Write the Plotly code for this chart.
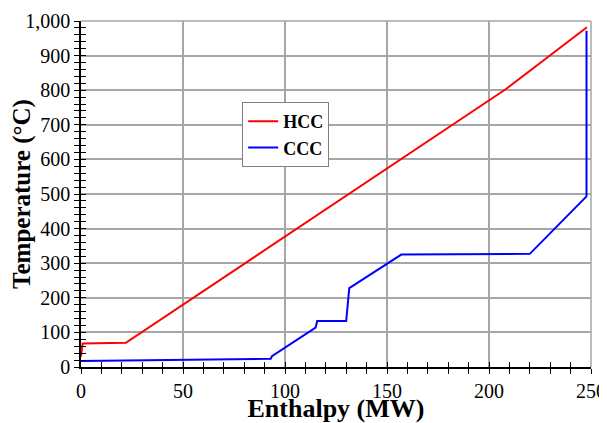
import plotly.graph_objects as go

hcc_h = [0, 0.8, 22, 208, 248]
hcc_t = [30, 68, 70, 802, 982]

ccc_h = [0, 93, 93.6, 115, 115.8, 130, 131.5, 157, 220, 247.8, 247.8]
ccc_t = [17, 24, 31, 114, 133, 133, 228, 325, 327, 493, 972]

x_ticks = [0, 50, 100, 150, 200, 250]
y_ticks = list(range(0, 1001, 100))

SERIF = "Liberation Serif"
GRID = "#a6a6a6"

fig = go.Figure()
fig.add_trace(go.Scatter(x=hcc_h, y=hcc_t, mode="lines", name="HCC",
                         line=dict(color="#ff0000", width=2)))
fig.add_trace(go.Scatter(x=ccc_h, y=ccc_t, mode="lines", name="CCC",
                         line=dict(color="#0000ff", width=2)))
fig.add_trace(go.Scatter(x=[None], y=[None], xaxis="x2", yaxis="y2",
                         showlegend=False, hoverinfo="skip"))

common_tick = dict(ticklen=5, tickwidth=1, tickcolor="black")
fig.update_layout(
    width=599, height=415,
    margin=dict(l=73, r=16, t=13, b=56),
    paper_bgcolor="white", plot_bgcolor="white",
    font=dict(family=SERIF, size=20, color="black"),
    showlegend=True,
    legend=dict(x=0.316, y=0.766, xanchor="left", yanchor="top",
                bordercolor="#808080", borderwidth=1, bgcolor="white",
                font=dict(family=SERIF, size=18, color="black", weight="bold"),
                tracegroupgap=0, itemwidth=30),
    xaxis=dict(range=[0, 250], tickvals=x_ticks, automargin=False,
               showgrid=True, gridcolor=GRID, gridwidth=1.5,
               showline=True, linecolor="black", linewidth=1.5,
               zeroline=False, ticks="outside", **common_tick,
               minor=dict(dtick=10, ticks="outside", ticklen=5, tickcolor="black", showgrid=False),
               title=dict(text="<b>Enthalpy (MW)</b>", font=dict(family=SERIF, size=26), standoff=5),
               tickfont=dict(family=SERIF, size=20)),
    yaxis=dict(range=[0, 1000], tickvals=y_ticks, automargin=False,
               tickformat=",d",
               showgrid=True, gridcolor=GRID, gridwidth=1.5,
               showline=True, linecolor="black", linewidth=1.5,
               zeroline=False, ticks="outside", **common_tick,
               minor=dict(dtick=20, ticks="outside", ticklen=5, tickcolor="black", showgrid=False),
               title=dict(text="<b>Temperature (°C)</b>", font=dict(family=SERIF, size=25), standoff=4),
               tickfont=dict(family=SERIF, size=20)),
    xaxis2=dict(range=[0, 250], overlaying="x", side="bottom", showgrid=False,
                showticklabels=False, zeroline=False, showline=False, automargin=False,
                tickvals=x_ticks, ticks="inside", **common_tick,
                minor=dict(dtick=10, ticks="inside", ticklen=5, tickcolor="black")),
    yaxis2=dict(range=[0, 1000], overlaying="y", side="left", showgrid=False,
                showticklabels=False, zeroline=False, showline=False, automargin=False,
                tickvals=y_ticks, ticks="inside", **common_tick,
                minor=dict(dtick=20, ticks="inside", ticklen=5, tickcolor="black")),
    shapes=[
        dict(type="line", xref="paper", yref="paper", x0=0, x1=1, y0=1, y1=1,
             line=dict(color=GRID, width=1.5)),
        dict(type="line", xref="paper", yref="paper", x0=1, x1=1, y0=0, y1=1,
             line=dict(color=GRID, width=1.5)),
    ],
)

fig.write_html("out.html")
